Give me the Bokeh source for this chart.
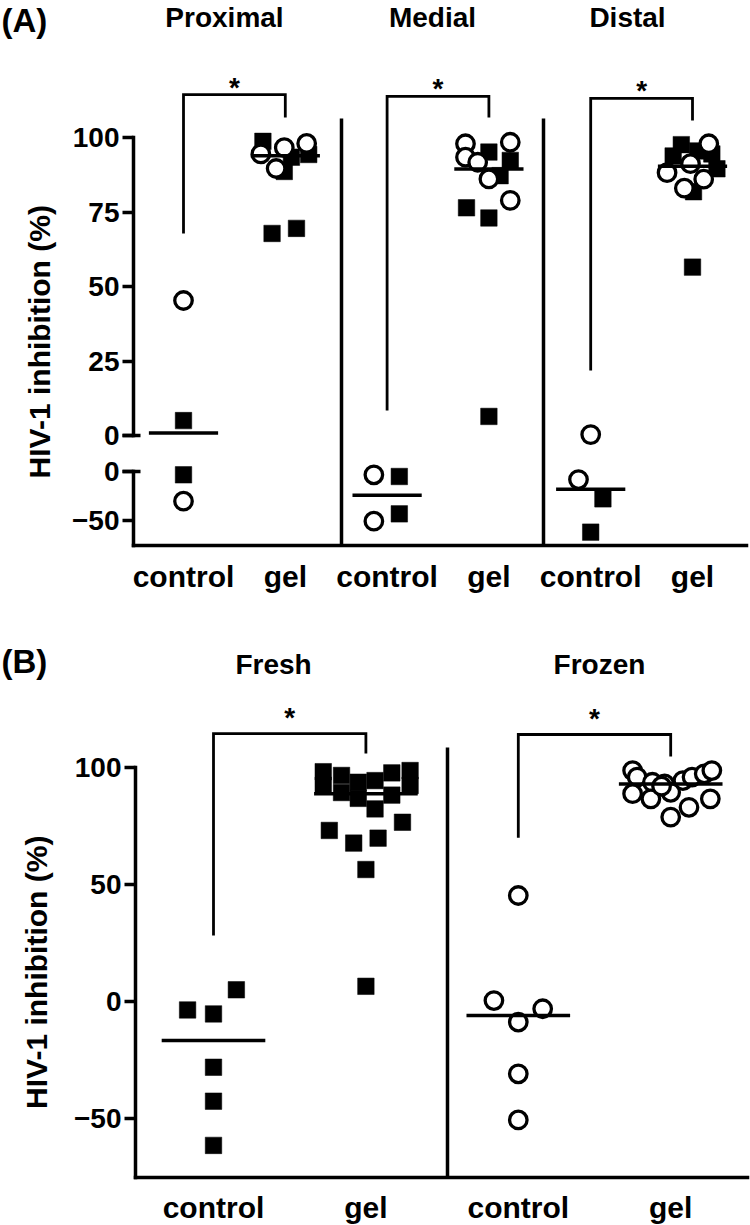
import numpy as np
from bokeh.plotting import figure
from bokeh.models import LinearAxis, FixedTicker, Range1d, ColumnDataSource
from bokeh.layouts import column
from bokeh.embed import file_html
from bokeh.resources import INLINE
from bokeh.core.properties import value

# =============================== DATA ===============================
# Panel (A): HIV-1 inhibition (%) per region; open circles and filled squares
A_regions = ["Proximal", "Medial", "Distal"]
A_x_labels = ["control", "gel", "control", "gel", "control", "gel"]

prox_ctrl_circle = [45.3, -30.3]
prox_ctrl_square = [5.0, -3.4]
prox_gel_circle = [94.5, 96.6, 98.0, 89.6]
prox_gel_square = [98.7, 94.3, 93.4, 88.6, 67.8, 69.5]

med_ctrl_circle = [-3.4, -50.7]
med_ctrl_square = [-5.1, -43.2]
med_gel_circle = [97.9, 93.4, 91.7, 98.4, 86.1, 78.9]
med_gel_square = [95.1, 92.3, 87.2, 76.4, 73.0, 6.4]

dist_ctrl_circle = [0.3, -8.2]
dist_ctrl_square = [-27.9, -61.9]
dist_gel_circle = [97.9, 91.2, 88.2, 86.0, 83.0]
dist_gel_square = [97.6, 95.5, 93.8, 94.5, 89.5, 81.8, 56.5]

# horizontal scatter of each point around its column (column units)
prox_ctrl_circle_dx = [0.0, 0.0]
prox_ctrl_square_dx = [0.0, 0.0]
prox_gel_circle_dx = [-0.24, -0.01, 0.21, -0.09]
prox_gel_square_dx = [-0.22, 0.23, 0.06, -0.01, -0.13, 0.11]
med_ctrl_circle_dx = [-0.13, -0.13]
med_ctrl_square_dx = [0.12, 0.12]
med_gel_circle_dx = [-0.23, -0.23, -0.11, 0.21, 0.0, 0.21]
med_gel_square_dx = [0.0, 0.21, 0.11, -0.22, 0.0, 0.0]
dist_ctrl_circle_dx = [0.0, -0.12]
dist_ctrl_square_dx = [0.12, 0.0]
dist_gel_circle_dx = [0.16, -0.02, -0.25, 0.11, -0.08]
dist_gel_square_dx = [-0.11, 0.05, -0.19, 0.19, 0.24, 0.01, 0.0]

A_upper_ticks = [0, 25, 50, 75, 100]
A_lower_ticks = [0, -50]
A_lower_min = -76

A_bracket_top = [114.4, 113.8, 113.1]
A_bracket_left_end = [67.8, 8.4, 21.8]
A_bracket_right_end = [106.7, 106.7, 105.7]

# Panel (B): fresh vs frozen tissue
B_groups = ["Fresh", "Frozen"]
B_x_labels = ["control", "gel", "control", "gel"]

fresh_ctrl_square = [-3.6, -5.3, 5.0, -28.1, -42.6, -61.5]
fresh_gel_square = [98.2, 92.4, 96.6, 89.3, 93.7, 86.8, 94.4, 82.3, 97.7, 88.2,
                    98.7, 92.3, 73.1, 67.7, 69.8, 76.6, 56.4, 6.5]
frozen_ctrl_circle = [0.4, -8.8, -3.1, -30.9, -50.6, 45.3]
frozen_gel_circle = [98.7, 95.9, 93.7, 93.0, 94.4, 95.9, 97.3, 98.7,
                     88.8, 86.6, 89.4, 83.0, 86.6, 78.8, 92.0]

fresh_ctrl_square_dx = [-0.17, 0.0, 0.15, 0.0, 0.0, 0.0]
fresh_gel_square_dx = [-0.28, -0.28, -0.16, -0.16, -0.05, -0.05, 0.06, 0.06, 0.17, 0.17,
                       0.29, 0.29, -0.24, -0.08, 0.08, 0.24, 0.0, 0.0]
frozen_ctrl_circle_dx = [-0.16, 0.0, 0.16, 0.0, 0.0, 0.0]
frozen_gel_circle_dx = [-0.25, -0.22, -0.12, -0.04, 0.08, 0.14, 0.22, 0.27,
                        -0.25, -0.13, 0.0, 0.12, 0.26, 0.0, -0.06]

B_ticks = [-50, 0, 50, 100]
B_min = -75
B_bracket_top = [114.5, 114.1]
B_bracket_left_end = [28.2, 70.0]
B_bracket_right_end = [106.0, 104.7]

# ============================ LAYOUT ================================
FONT = "Liberation Sans"
W = 750
A_H, B_H = 628, 596
TOP_A = 0
TOP_B = TOP_A + A_H

# panel A geometry (page pixels)
A_X0, A_XU = 183.0, 101.8          # page x of column 0, px per column
A_Y0, A_YU = 435.0, 2.98           # upper segment: page y of 0, px per %
A_LY0, A_LYU = 471.0, 0.98         # lower segment: page y of 0, px per %
# panel B geometry
B_X0, B_XU = 213.0, 152.4
B_Y0, B_YU = 1001.0, 2.34


def a_x(px):
    return (px - A_X0) / A_XU


def a_y(py):
    return (A_Y0 - py) / A_YU


def a_low_to_main(v):
    return a_y(A_LY0 - v * A_LYU)


def b_x(px):
    return (px - B_X0) / B_XU


def b_y(py):
    return (B_Y0 - py) / B_YU


def make_fig(h, xr, yr):
    p = figure(width=W, height=h, x_range=xr, y_range=yr, output_backend="svg",
               toolbar_location=None, tools="", title=None,
               x_axis_location=None, y_axis_location=None, min_border=0,
               outline_line_color=None, background_fill_color="white",
               border_fill_color="white")
    p.grid.visible = False
    return p


def style_axis(ax, size="28px"):
    ax.axis_line_width = 3.5
    ax.axis_line_color = "black"
    ax.axis_line_cap = "square"
    ax.major_tick_line_width = 3.5
    ax.major_tick_line_color = "black"
    ax.minor_tick_line_color = None
    ax.major_label_text_font = FONT
    ax.major_label_text_font_style = "bold"
    ax.major_label_text_font_size = size
    ax.major_label_text_color = "black"
    return ax


def y_axis(loc, ticks, bounds, rname="default", tick_in=0, labels=True, line=True):
    ax = LinearAxis(fixed_location=loc, bounds=bounds, ticker=FixedTicker(ticks=ticks),
                    y_range_name=rname)
    style_axis(ax)
    ax.major_tick_out = 11
    ax.major_tick_in = tick_in
    ax.major_label_standoff = 3
    if not labels:
        ax.major_label_text_color = None
    if not line:
        ax.axis_line_color = None
    return ax


def x_axis(loc, labels, bounds, standoff):
    ticks = list(range(len(labels)))
    ax = LinearAxis(fixed_location=loc, bounds=bounds, ticker=FixedTicker(ticks=ticks),
                    major_label_overrides={t: lab for t, lab in zip(ticks, labels)})
    style_axis(ax, "30px")
    ax.major_tick_out = 0
    ax.major_tick_in = 0
    ax.major_tick_line_color = None
    ax.major_label_standoff = standoff
    return ax


def draw_points(p, col, vals, dx, kind, split):
    vals = np.asarray(vals, float)
    xs = col + np.asarray(dx, float)
    for rname, mask in split(vals):
        if not mask.any():
            continue
        src = ColumnDataSource(dict(x=xs[mask], y=vals[mask]))
        if kind == "circle":
            p.scatter("x", "y", source=src, marker="circle", size=17.5, fill_color="white",
                      line_color="black", line_width=3.3, y_range_name=rname)
        else:
            p.scatter("x", "y", source=src, marker="square", size=16.5, fill_color="black",
                      line_color="black", line_width=0.5, y_range_name=rname)


def draw_median(p, col, series, rname_for):
    med = float(np.median(np.concatenate([np.asarray(s, float) for s in series])))
    p.segment(x0=[col - 0.34], y0=[med], x1=[col + 0.34], y1=[med], line_color="black",
              line_width=3.5, y_range_name=rname_for(med))


def draw_bracket(p, c0, c1, top, left_end, right_end):
    p.line(x=[c0, c0, c1, c1], y=[left_end, top, top, right_end], line_color="black",
           line_width=2.8, line_join="miter")


def add_text(p, x, y, text, size, align="center", baseline="middle", angle=0.0):
    p.text(x=x, y=y, text=text, text_font=value(FONT), text_font_style="bold",
           text_font_size=size, text_align=align, text_baseline=baseline,
           text_color="black", angle=angle)


# ============================ PANEL A ===============================
pA = make_fig(A_H,
              Range1d(a_x(0), a_x(W)),
              Range1d(a_y(TOP_A + A_H), a_y(TOP_A)))
pA.extra_y_ranges = {"low": Range1d((A_LY0 - (TOP_A + A_H)) / A_LYU,
                                    (A_LY0 - TOP_A) / A_LYU)}

A_yaxis_x = a_x(133)
A_bottom = a_low_to_main(A_lower_min)

pA.add_layout(y_axis(A_yaxis_x, A_upper_ticks, (0, 100)), "left")
pA.add_layout(y_axis(A_yaxis_x, A_lower_ticks, (A_lower_min, 0), rname="low"), "left")
pA.add_layout(y_axis(A_yaxis_x, [0], (0, 0), tick_in=7, labels=False, line=False), "left")
pA.add_layout(y_axis(A_yaxis_x, [0], (0, 0), rname="low", tick_in=7, labels=False,
                     line=False), "left")
pA.add_layout(x_axis(A_bottom, A_x_labels, (A_yaxis_x, a_x(746)), 14), "below")


def split_a(vals):
    return [("default", vals >= 0), ("low", vals < 0)]


def rname_a(v):
    return "default" if v >= 0 else "low"


A_series = [
    (0, prox_ctrl_circle, prox_ctrl_circle_dx, prox_ctrl_square, prox_ctrl_square_dx),
    (1, prox_gel_circle, prox_gel_circle_dx, prox_gel_square, prox_gel_square_dx),
    (2, med_ctrl_circle, med_ctrl_circle_dx, med_ctrl_square, med_ctrl_square_dx),
    (3, med_gel_circle, med_gel_circle_dx, med_gel_square, med_gel_square_dx),
    (4, dist_ctrl_circle, dist_ctrl_circle_dx, dist_ctrl_square, dist_ctrl_square_dx),
    (5, dist_gel_circle, dist_gel_circle_dx, dist_gel_square, dist_gel_square_dx),
]

# dividers between regions
A_div_x = [a_x(341), a_x(543)]
pA.segment(x0=A_div_x, y0=[A_bottom] * 2, x1=A_div_x, y1=[a_y(118)] * 2,
           line_color="black", line_width=3.5)

for col, circ, cdx, sq, sdx in A_series:
    draw_points(pA, col, sq, sdx, "square", split_a)
for col, circ, cdx, sq, sdx in A_series:
    draw_points(pA, col, circ, cdx, "circle", split_a)
for col, circ, cdx, sq, sdx in A_series:
    draw_median(pA, col, [circ, sq], rname_a)

for i in range(len(A_regions)):
    draw_bracket(pA, 2 * i, 2 * i + 1, A_bracket_top[i], A_bracket_left_end[i],
                 A_bracket_right_end[i])

# asterisks (anchor a few px above the bracket, glyph sits high in its box)
add_text(pA, [2 * i + 0.5 for i in range(3)], [t + 7.5 / A_YU for t in A_bracket_top],
         ["*"] * 3, "28px")
add_text(pA, [a_x(224), a_x(432), a_x(627)], [a_y(16.5)] * 3, A_regions, "28px")
add_text(pA, [a_x(1)], [a_y(20)], ["(A)"], "33px", align="left")
add_text(pA, [a_x(39)], [(100 + A_bottom) / 2], ["HIV-1 inhibition (%)"], "30px",
         angle=np.pi / 2)

# ============================ PANEL B ===============================
pB = make_fig(B_H,
              Range1d(b_x(0), b_x(W)),
              Range1d(b_y(TOP_B + B_H), b_y(TOP_B)))

B_yaxis_x = b_x(135)
pB.add_layout(y_axis(B_yaxis_x, B_ticks, (B_min, 100)), "left")
pB.add_layout(x_axis(B_min, B_x_labels, (B_yaxis_x, b_x(747)), 14), "below")


def split_b(vals):
    return [("default", np.ones_like(vals, dtype=bool))]


def rname_b(v):
    return "default"


B_div_x = [b_x(447)]
pB.segment(x0=B_div_x, y0=[B_min], x1=B_div_x, y1=[b_y(747)], line_color="black",
           line_width=3.5)

draw_points(pB, 0, fresh_ctrl_square, fresh_ctrl_square_dx, "square", split_b)
draw_points(pB, 1, fresh_gel_square, fresh_gel_square_dx, "square", split_b)
draw_points(pB, 2, frozen_ctrl_circle, frozen_ctrl_circle_dx, "circle", split_b)
draw_points(pB, 3, frozen_gel_circle, frozen_gel_circle_dx, "circle", split_b)
draw_median(pB, 0, [fresh_ctrl_square], rname_b)
draw_median(pB, 1, [fresh_gel_square], rname_b)
draw_median(pB, 2, [frozen_ctrl_circle], rname_b)
draw_median(pB, 3, [frozen_gel_circle], rname_b)

for i in range(len(B_groups)):
    draw_bracket(pB, 2 * i, 2 * i + 1, B_bracket_top[i], B_bracket_left_end[i],
                 B_bracket_right_end[i])

add_text(pB, [2 * i + 0.5 for i in range(2)], [t + 16.5 / B_YU for t in B_bracket_top],
         ["*"] * 2, "28px")
add_text(pB, [b_x(273), b_x(599)], [b_y(663.5)] * 2, B_groups, "28px")
add_text(pB, [b_x(1)], [b_y(661)], ["(B)"], "33px", align="left")
add_text(pB, [b_x(36)], [(100 + B_min) / 2], ["HIV-1 inhibition (%)"], "30px",
         angle=np.pi / 2)

layout = column(pA, pB, spacing=0)
open("out.html", "w").write(file_html(layout, INLINE))
